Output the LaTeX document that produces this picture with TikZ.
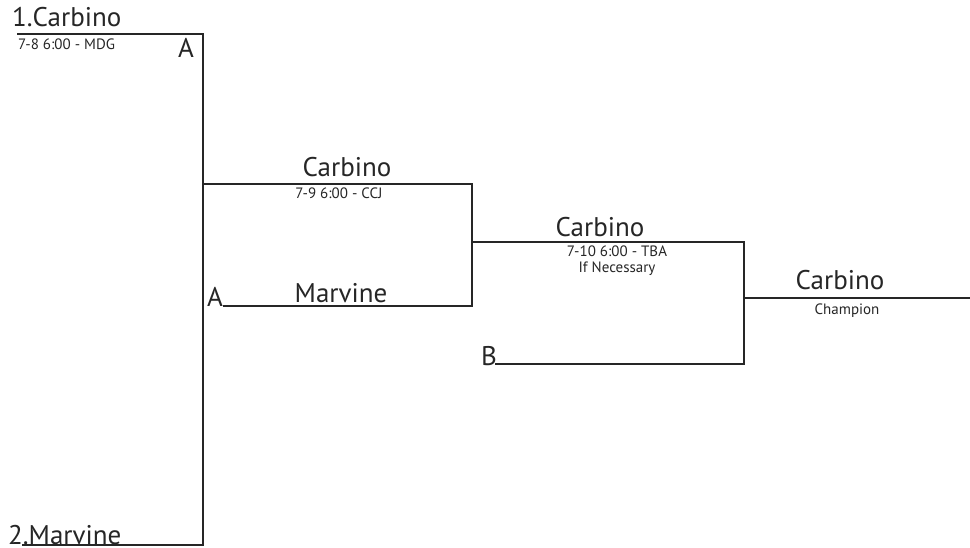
\documentclass[tikz,border=0pt]{standalone}
\usepackage{fontspec}
\setmainfont{PT Sans}
\begin{document}
\begin{tikzpicture}[x=1pt,y=-1pt,
  line/.style={line width=2pt,black!85},
  big/.style={inner sep=0pt,anchor=base,font=\fontsize{27}{30}\selectfont,text=black!85},
  small/.style={inner sep=0pt,anchor=base,font=\fontsize{15}{17}\selectfont,text=black!85}]
\useasboundingbox (0,0) rectangle (970,548);
% coordinates
\coordinate (s1) at (17,34);
\coordinate (c1) at (203,34);
\coordinate (s2) at (22,545);
\coordinate (c2) at (203,545);
\coordinate (r2a) at (203,184);
\coordinate (r2ae) at (472,184);
\coordinate (r2b) at (223,306);
\coordinate (r2be) at (472,306);
\coordinate (r3a) at (472,242);
\coordinate (r3ae) at (744,242);
\coordinate (r3b) at (495,364);
\coordinate (r3be) at (744,364);
\coordinate (fa) at (744,298);
\coordinate (fe) at (970,298);
% lines
\draw[line] (s1) -- (c1) -- (c2) -- (s2);
\draw[line] (r2a) -- (r2ae) -- (r2be) -- (r2b);
\draw[line] (r3a) -- (r3ae) -- (r3be) -- (r3b);
\draw[line] (fa) -- (fe);
% texts
\node[big,anchor=base west] (t1) at (12,27) {1.Carbino};
\node[small,anchor=base west] (d1) at (18,50) {7-8 6:00 - MDG};
\node[big,anchor=base west] (a1) at (178,58) {A};
\node[big,anchor=base west] (t2) at (8,544) {2.Marvine};
\node[big] (w1) at (347,177) {Carbino};
\node[small] (d2) at (339,199) {7-9 6:00 - CCJ};
\node[big] (w2) at (341,302) {Marvine};
\node[big,anchor=base west] (a2) at (207,307) {A};
\node[big] (w3) at (600,237) {Carbino};
\node[small] (d3) at (617,257) {7-10 6:00 - TBA};
\node[small] (d4) at (617,273) {If Necessary};
\node[big,anchor=base west] (b1) at (481,365) {B};
\node[big] (w4) at (840,290) {Carbino};
\node[small] (d5) at (847,315) {Champion};
\end{tikzpicture}
\end{document}
